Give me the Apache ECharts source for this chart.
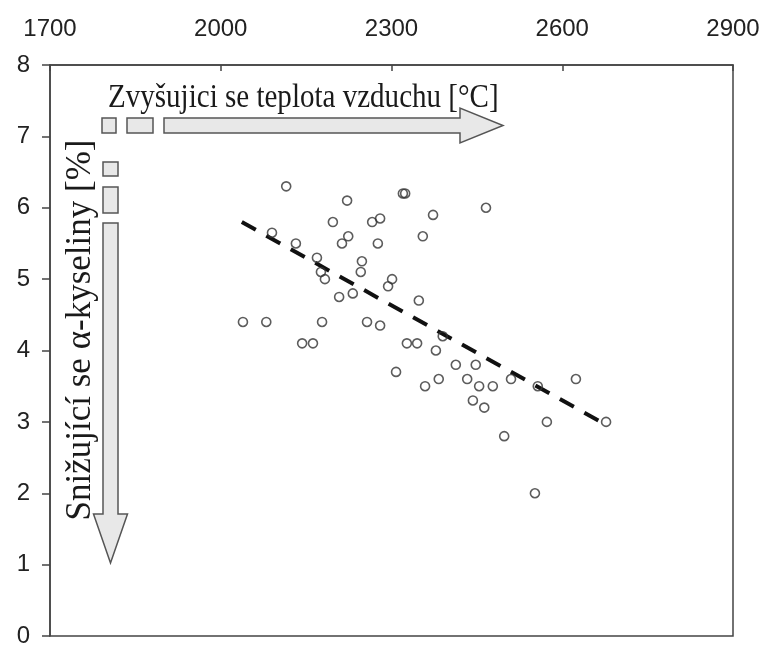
<!DOCTYPE html>
<html>
<head>
<meta charset="utf-8">
<script src="https://cdn.jsdelivr.net/npm/echarts@6/dist/echarts.min.js"></script>
<style>
    html, body { margin: 0; padding: 0; background: #fff; }
    #chart1 { width: 765px; height: 648px; }
</style>
</head>
<body>
<div id="chart1"></div>
<script>
// teplota vzduchu [°C] a alfa-kyseliny [%]
var tempValues = [2115, 2222, 2320, 2324, 2373, 2466, 2197, 2266, 2280, 2090,
    2224, 2213, 2276, 2355, 2132, 2169, 2248, 2246, 2176, 2183,
    2301, 2294, 2208, 2232, 2348, 2039, 2080, 2178, 2257, 2280,
    2143, 2162, 2327, 2345, 2390, 2378, 2308, 2413, 2448, 2359,
    2383, 2433, 2454, 2478, 2510, 2557, 2624, 2443, 2463, 2573,
    2677, 2498, 2552];
var acidValues = [6.3, 6.1, 6.2, 6.2, 5.9, 6.0, 5.8, 5.8, 5.85, 5.65,
    5.6, 5.5, 5.5, 5.6, 5.5, 5.3, 5.25, 5.1, 5.1, 5.0,
    5.0, 4.9, 4.75, 4.8, 4.7, 4.4, 4.4, 4.4, 4.4, 4.35,
    4.1, 4.1, 4.1, 4.1, 4.2, 4.0, 3.7, 3.8, 3.8, 3.5,
    3.6, 3.6, 3.5, 3.5, 3.6, 3.5, 3.6, 3.3, 3.2, 3.0,
    3.0, 2.8, 2.0];
// trend (linearni regrese)
var trendX = [2037, 2677];
var trendY = [5.8, 2.96];
var tempTicks = [1700, 2000, 2300, 2600, 2900];
var acidTicks = [0, 1, 2, 3, 4, 5, 6, 7, 8];

window.onload = function () {
    chart1();
};

function chart1() {
    var myChart = echarts.init(document.getElementById('chart1'));
    var points = tempValues.map(function (t, i) {
        return [t, acidValues[i]];
    });
    var trend = trendX.map(function (t, i) {
        return [t, trendY[i]];
    });
    var boxStyle = { fill: '#e8e8e8', stroke: '#555', lineWidth: 1.5 };
    option = {
        backgroundColor: '#fff',
        animation: false,
        grid: {
            left: 50,
            right: 32,
            top: 65,
            bottom: 7,
            show: true,
            borderColor: '#444',
            borderWidth: 1.5
        },
        xAxis: {
            type: 'value',
            position: 'top',
            min: tempTicks[0],
            max: tempTicks[tempTicks.length - 1],
            interval: 300,
            axisLine: { show: true, onZero: false, lineStyle: { color: '#444', width: 1.5 } },
            axisTick: { show: true, inside: true, length: 6, lineStyle: { color: '#444', width: 1.5 } },
            axisLabel: {
                fontSize: 24,
                fontFamily: 'Liberation Sans, Arial, sans-serif',
                color: '#222',
                margin: 24,
                formatter: function (v) { return String(v); }
            },
            splitLine: { show: false }
        },
        yAxis: {
            type: 'value',
            min: acidTicks[0],
            max: acidTicks[acidTicks.length - 1],
            interval: 1,
            axisLine: { show: true, onZero: false, lineStyle: { color: '#444', width: 1.5 } },
            axisTick: { show: true, length: 8, lineStyle: { color: '#444', width: 1.5 } },
            axisLabel: {
                fontSize: 24,
                fontFamily: 'Liberation Sans, Arial, sans-serif',
                color: '#222',
                margin: 20
            },
            splitLine: { show: false }
        },
        graphic: [
            // sipka vpravo
            { type: 'rect', shape: { x: 102, y: 118, width: 14, height: 15 }, style: boxStyle },
            { type: 'rect', shape: { x: 127, y: 118, width: 26, height: 15 }, style: boxStyle },
            {
                type: 'polygon',
                shape: { points: [[164, 118], [460, 118], [460, 108], [503, 125.5], [460, 143], [460, 133], [164, 133]] },
                style: boxStyle
            },
            // sipka dolu
            { type: 'rect', shape: { x: 103, y: 162, width: 15, height: 14 }, style: boxStyle },
            { type: 'rect', shape: { x: 103, y: 187, width: 15, height: 26 }, style: boxStyle },
            {
                type: 'polygon',
                shape: { points: [[103, 223], [118, 223], [118, 514], [127.5, 514], [110.5, 563], [93.5, 514], [103, 514]] },
                style: boxStyle
            },
            {
                type: 'text',
                x: 108,
                y: 98,
                scaleX: 0.88,
                style: {
                    text: 'Zvyšujici se teplota vzduchu [°C]',
                    font: '33px "Liberation Serif", "Times New Roman", serif',
                    fill: '#1a1a1a',
                    textAlign: 'left',
                    textVerticalAlign: 'middle'
                }
            },
            {
                type: 'text',
                x: 81,
                y: 330,
                rotation: Math.PI / 2,
                style: {
                    text: 'Snižující se α-kyseliny [%]',
                    font: '35px "Liberation Serif", "Times New Roman", serif',
                    fill: '#1a1a1a',
                    textAlign: 'center',
                    textVerticalAlign: 'middle'
                }
            }
        ],
        series: [
            {
                name: 'trend',
                type: 'line',
                data: trend,
                symbol: 'none',
                z: 3,
                lineStyle: { color: '#111', width: 4, type: [16, 12] }
            },
            {
                name: 'body',
                type: 'scatter',
                data: points,
                symbol: 'circle',
                symbolSize: 9,
                z: 4,
                itemStyle: {
                    color: 'rgba(255,255,255,0)',
                    borderColor: '#333',
                    borderWidth: 1.6
                }
            }
        ]
    };
    myChart.setOption(option);
}
</script>
</body>
</html>
